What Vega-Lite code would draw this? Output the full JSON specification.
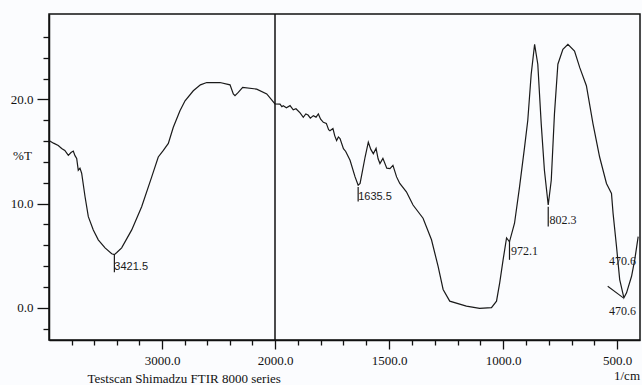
{
  "$schema": "https://vega.github.io/schema/vega-lite/v6.json",
  "width": 591,
  "height": 326,
  "autosize": {"type": "none"},
  "padding": {"left": 49, "top": 14, "right": 2, "bottom": 45},
  "background": "#fbfcfe",
  "config": {
    "view": {"stroke": "#111", "strokeWidth": 1.5},
    "font": "Liberation Serif",
    "axis": {"domainColor": "#111", "tickColor": "#111", "labelColor": "#111", "titleColor": "#111", "labelFont": "Liberation Serif", "titleFont": "Liberation Serif", "labelFontSize": 13, "titleFontSize": 13, "titleFontWeight": "normal", "grid": false, "domainWidth": 1.5, "tickWidth": 1.3}
  },
  "title": {"text": "1/cm", "orient": "bottom", "anchor": "end", "font": "Liberation Serif", "fontSize": 13, "fontWeight": "normal", "color": "#111", "frame": "group", "offset": -15},
  "resolve": {"axis": {"x": "independent", "y": "independent"}},
  "datasets": {
    "spectrum": [
      {"wn": 4000, "t": 16.06}, {"wn": 3960, "t": 15.8}, {"wn": 3918, "t": 15.58}, {"wn": 3888, "t": 15.29}, {"wn": 3860, "t": 15.1}, {"wn": 3829, "t": 14.63}, {"wn": 3805, "t": 14.9}, {"wn": 3785, "t": 15.04}, {"wn": 3770, "t": 14.6}, {"wn": 3755, "t": 14.34}, {"wn": 3741, "t": 13.2}, {"wn": 3726, "t": 13.4}, {"wn": 3711, "t": 12.91}, {"wn": 3681, "t": 10.65}, {"wn": 3652, "t": 8.74}, {"wn": 3608, "t": 7.47}, {"wn": 3564, "t": 6.52}, {"wn": 3504, "t": 5.75}, {"wn": 3445, "t": 5.18}, {"wn": 3421.5, "t": 5.1}, {"wn": 3400, "t": 5.3}, {"wn": 3357, "t": 5.75}, {"wn": 3268, "t": 7.47}, {"wn": 3180, "t": 9.69}, {"wn": 3091, "t": 12.56}, {"wn": 3033, "t": 14.47}, {"wn": 2988, "t": 15.1}, {"wn": 2944, "t": 15.77}, {"wn": 2900, "t": 17.33}, {"wn": 2841, "t": 18.92}, {"wn": 2796, "t": 19.87}, {"wn": 2723, "t": 20.83}, {"wn": 2660, "t": 21.4}, {"wn": 2604, "t": 21.62}, {"wn": 2487, "t": 21.62}, {"wn": 2398, "t": 21.4}, {"wn": 2369, "t": 20.52}, {"wn": 2354, "t": 20.35}, {"wn": 2325, "t": 20.67}, {"wn": 2286, "t": 21.15}, {"wn": 2162, "t": 20.99}, {"wn": 2073, "t": 20.52}, {"wn": 2000, "t": 19.56}, {"wn": 1978, "t": 19.54}, {"wn": 1970, "t": 19.3}, {"wn": 1964, "t": 19.4}, {"wn": 1950, "t": 19.2}, {"wn": 1934, "t": 19.4}, {"wn": 1920, "t": 19.0}, {"wn": 1908, "t": 19.1}, {"wn": 1890, "t": 18.7}, {"wn": 1876, "t": 18.28}, {"wn": 1865, "t": 18.6}, {"wn": 1855, "t": 18.5}, {"wn": 1845, "t": 18.2}, {"wn": 1832, "t": 18.44}, {"wn": 1820, "t": 18.3}, {"wn": 1810, "t": 18.6}, {"wn": 1800, "t": 18.1}, {"wn": 1788, "t": 17.8}, {"wn": 1775, "t": 17.7}, {"wn": 1765, "t": 17.1}, {"wn": 1759, "t": 17.0}, {"wn": 1746, "t": 17.2}, {"wn": 1738, "t": 16.5}, {"wn": 1730, "t": 16.06}, {"wn": 1722, "t": 16.4}, {"wn": 1715, "t": 16.25}, {"wn": 1700, "t": 15.27}, {"wn": 1690, "t": 15.0}, {"wn": 1671, "t": 14.15}, {"wn": 1649, "t": 12.56}, {"wn": 1635.5, "t": 11.77}, {"wn": 1627, "t": 11.93}, {"wn": 1605, "t": 14.47}, {"wn": 1591, "t": 15.9}, {"wn": 1580, "t": 15.2}, {"wn": 1569, "t": 14.79}, {"wn": 1557, "t": 15.3}, {"wn": 1548, "t": 14.3}, {"wn": 1540, "t": 13.84}, {"wn": 1527, "t": 14.34}, {"wn": 1510, "t": 13.4}, {"wn": 1496, "t": 13.36}, {"wn": 1483, "t": 13.67}, {"wn": 1467, "t": 12.56}, {"wn": 1453, "t": 11.93}, {"wn": 1424, "t": 11.13}, {"wn": 1395, "t": 9.86}, {"wn": 1351, "t": 8.59}, {"wn": 1314, "t": 6.52}, {"wn": 1285, "t": 3.97}, {"wn": 1263, "t": 1.75}, {"wn": 1234, "t": 0.63}, {"wn": 1161, "t": 0.15}, {"wn": 1103, "t": -0.07}, {"wn": 1051, "t": 0.0}, {"wn": 1029, "t": 0.63}, {"wn": 1015, "t": 2.39}, {"wn": 1000, "t": 4.61}, {"wn": 985, "t": 6.7}, {"wn": 972.1, "t": 6.33}, {"wn": 950, "t": 8.11}, {"wn": 928, "t": 11.6}, {"wn": 906, "t": 15.42}, {"wn": 892, "t": 17.97}, {"wn": 877, "t": 22.42}, {"wn": 862, "t": 25.29}, {"wn": 848, "t": 23.38}, {"wn": 833, "t": 17.65}, {"wn": 819, "t": 13.2}, {"wn": 802.3, "t": 9.86}, {"wn": 789, "t": 12.24}, {"wn": 775, "t": 18.61}, {"wn": 760, "t": 23.38}, {"wn": 738, "t": 24.81}, {"wn": 716, "t": 25.29}, {"wn": 687, "t": 24.65}, {"wn": 664, "t": 23.05}, {"wn": 635, "t": 21.31}, {"wn": 606, "t": 17.65}, {"wn": 577, "t": 14.47}, {"wn": 547, "t": 11.93}, {"wn": 525, "t": 10.97}, {"wn": 518, "t": 9.06}, {"wn": 503, "t": 5.88}, {"wn": 489, "t": 2.7}, {"wn": 470.6, "t": 0.95}, {"wn": 459, "t": 1.43}, {"wn": 437, "t": 3.02}, {"wn": 423, "t": 4.61}, {"wn": 408, "t": 6.83}
    ],
    "markers": [
      {"wn": 3421.5, "t": 5.1, "t2": 3.4},
      {"wn": 1635.5, "t": 11.6, "t2": 10.2},
      {"wn": 972.1, "t": 6.4, "t2": 4.6},
      {"wn": 802.3, "t": 9.7, "t2": 7.8}
    ],
    "serifLabels": [
      {"wn": 965, "t": 5.4, "label": "972.1"},
      {"wn": 797, "t": 8.43, "label": "802.3"},
      {"wn": 536, "t": 4.45, "label": "470.6"},
      {"wn": 536, "t": -0.32, "label": "470.6"}
    ],
    "sansLabels": [
      {"wn": 3421.5, "t": 3.95, "label": "3421.5"},
      {"wn": 1635.5, "t": 10.65, "label": "1635.5"}
    ],
    "diag": [{"wn": 541.5, "t": 2.06, "wn2": 473, "t2": 0.95}],
    "divider": [{"wn": 2000}]
  },
  "layer": [
    {
      "data": {"name": "spectrum"},
      "mark": {"type": "line", "color": "#1a1a1a", "strokeWidth": 1.2},
      "encoding": {
        "x": {
          "field": "wn", "type": "quantitative",
          "scale": {"type": "linear", "domain": [4000, 2000, 400], "range": [0, 226, 591], "nice": false, "zero": false},
          "axis": {
            "orient": "bottom",
            "values": [3000, 2000, 1500, 1000, 500],
            "format": ".1f",
            "tickSize": 9,
            "labelPadding": 5,
            "labelFlush": false,
            "title": "Testscan Shimadzu FTIR 8000 series",
            "titleAnchor": "start",
            "titleAlign": "left",
            "titleX": 38,
            "titleY": 38,
            "titleBaseline": "middle"
          }
        },
        "y": {
          "field": "t", "type": "quantitative",
          "scale": {"domain": [-3.1, 28.2], "nice": false, "zero": false},
          "axis": {
            "orient": "left",
            "values": [0, 10, 20],
            "format": ".1f",
            "tickSize": 12,
            "labelPadding": 4,
            "title": "%T",
            "titleAngle": 0,
            "titleX": -27,
            "titleY": 141,
            "titleAlign": "center",
            "titleBaseline": "middle"
          }
        }
      }
    },
    {
      "data": {"name": "divider"},
      "mark": {"type": "rule", "color": "#111", "strokeWidth": 1.5},
      "encoding": {
        "x": {
          "field": "wn", "type": "quantitative",
          "axis": {
            "orient": "bottom",
            "values": [3800, 3600, 3400, 3200, 2800, 2600, 2400, 2200, 1900, 1800, 1700, 1600, 1400, 1300, 1200, 1100, 900, 800, 700, 600],
            "labels": false,
            "domain": false,
            "tickSize": 5,
            "title": null
          }
        }
      }
    },
    {
      "data": {"name": "markers"},
      "mark": {"type": "rule", "color": "#1a1a1a", "strokeWidth": 1.2},
      "encoding": {
        "x": {"field": "wn", "type": "quantitative", "axis": null},
        "y": {
          "field": "t", "type": "quantitative",
          "axis": {
            "orient": "left",
            "values": [-2, 2, 4, 6, 8, 12, 14, 16, 18, 22, 24, 26],
            "labels": false,
            "domain": false,
            "tickSize": 6,
            "title": null
          }
        },
        "y2": {"field": "t2"}
      }
    },
    {
      "data": {"name": "diag"},
      "mark": {"type": "rule", "color": "#1a1a1a", "strokeWidth": 1.1},
      "encoding": {
        "x": {"field": "wn", "type": "quantitative", "axis": null},
        "x2": {"field": "wn2"},
        "y": {"field": "t", "type": "quantitative", "axis": null},
        "y2": {"field": "t2"}
      }
    },
    {
      "data": {"name": "serifLabels"},
      "mark": {"type": "text", "align": "left", "baseline": "middle", "font": "Liberation Serif", "fontSize": 12, "color": "#1a1a1a"},
      "encoding": {
        "x": {"field": "wn", "type": "quantitative", "axis": null},
        "y": {"field": "t", "type": "quantitative", "axis": null},
        "text": {"field": "label"}
      }
    },
    {
      "data": {"name": "sansLabels"},
      "mark": {"type": "text", "align": "left", "baseline": "middle", "font": "Liberation Sans", "fontSize": 11, "color": "#1a1a1a"},
      "encoding": {
        "x": {"field": "wn", "type": "quantitative", "axis": null},
        "y": {"field": "t", "type": "quantitative", "axis": null},
        "text": {"field": "label"}
      }
    }
  ]
}
